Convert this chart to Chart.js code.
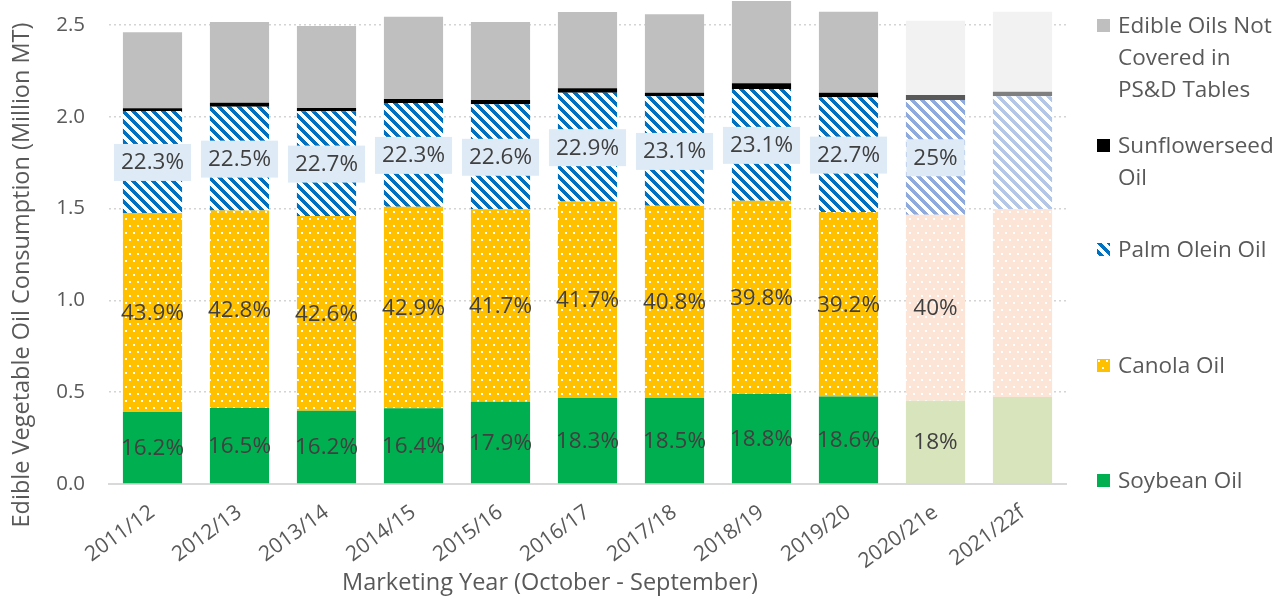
<!DOCTYPE html>
<html><head><meta charset="utf-8">
<script src="https://cdn.jsdelivr.net/npm/chart.js@4.4.1/dist/chart.umd.min.js"></script>
<style>
html,body{margin:0;padding:0;background:#fff;}
#wrap{position:relative;width:1284px;height:602px;overflow:hidden;}
#c{position:absolute;left:0;top:0;}
.lg{position:absolute;left:1118px;font-family:'Open Sans';font-size:22.5px;line-height:32px;color:#595959;white-space:nowrap;}
.mk{position:absolute;left:1097px;width:13px;height:13px;}
</style></head><body>
<div id="wrap"><canvas id="c" width="1284" height="602"></canvas><div id="legend"></div></div>
<script>
// ---------- DATA ----------
const categories = ['2011/12','2012/13','2013/14','2014/15','2015/16','2016/17','2017/18','2018/19','2019/20','2020/21e','2021/22f'];
const soybean   = [0.392,0.414,0.399,0.412,0.448,0.468,0.468,0.490,0.476,0.454,0.474];
const canola    = [1.084,1.075,1.061,1.098,1.048,1.070,1.048,1.053,1.005,1.013,1.022];
const palmOlein = [0.556,0.566,0.570,0.565,0.572,0.593,0.596,0.608,0.626,0.625,0.616];
const sunflower = [0.015,0.022,0.018,0.022,0.024,0.024,0.019,0.031,0.024,0.027,0.024];
const otherOils = [0.413,0.439,0.446,0.448,0.424,0.416,0.427,0.448,0.441,0.404,0.436];
const soyLabels    = ['16.2%','16.5%','16.2%','16.4%','17.9%','18.3%','18.5%','18.8%','18.6%','18%',null];
const canolaLabels = ['43.9%','42.8%','42.6%','42.9%','41.7%','41.7%','40.8%','39.8%','39.2%','40%',null];
const palmLabels   = ['22.3%','22.5%','22.7%','22.3%','22.6%','22.9%','23.1%','23.1%','22.7%','25%',null];
const yTicks = [0,0.5,1.0,1.5,2.0,2.5];
const seriesNames = ['Soybean Oil','Canola Oil','Palm Olein Oil','Sunflowerseed Oil','Edible Oils Not Covered in PS&D Tables'];
const legendLines = [['Edible Oils Not','Covered in','PS&D Tables'],['Sunflowerseed','Oil'],['Palm Olein Oil'],['Canola Oil'],['Soybean Oil']];
const yTitle = 'Edible Vegetable Oil Consumption (Million MT)';
const xTitle = 'Marketing Year (October - September)';

// ---------- STYLES ----------
function stripe(color){
  const c=document.createElement('canvas'); c.width=10; c.height=10;
  const g=c.getContext('2d'); g.fillStyle='#fff'; g.fillRect(0,0,10,10); g.fillStyle=color;
  for(let y=0;y<10;y++)for(let x=0;x<10;x++){ if((((x-y)%10)+10)%10<5) g.fillRect(x,y,1,1); }
  return g.createPattern(c,'repeat');
}
function dots(color){
  const c=document.createElement('canvas'); c.width=8; c.height=14;
  const g=c.getContext('2d'); g.fillStyle=color; g.fillRect(0,0,8,14); g.fillStyle='#fff';
  g.fillRect(1,1,2,2); g.fillRect(5,8,2,2);
  return g.createPattern(c,'repeat');
}
const kind = c => /e$/.test(c) ? 'e' : (/f$/.test(c) ? 'f' : 'a');
const pick = (a,e,f) => categories.map(c => ({a,e,f})[kind(c)]);

const styles = [
  {bg: pick('#00B050','#D8E4BC','#D8E4BC'), mk:'#00B050'},
  {bg: pick(dots('#FFC000'),dots('#FCE4D6'),dots('#FCE4D6')), mk:dots('#FFC000')},
  {bg: pick(stripe('#0070C0'),stripe('#8FAADC'),stripe('#B4C7E7')), mk:stripe('#0070C0')},
  {bg: pick('#000000','#595959','#7F7F7F'), mk:'#000000'},
  {bg: pick('#BFBFBF','#F2F2F2','#F2F2F2'), mk:'#BFBFBF'}
];
const series = [soybean,canola,palmOlein,sunflower,otherOils];

Chart.defaults.font.family = "'Open Sans', sans-serif";

const labelPlugin = {
  id:'segLabels',
  afterDatasetsDraw(chart){
    const ctx=chart.ctx;
    const specs=[[0,soyLabels,false],[1,canolaLabels,false],[2,palmLabels,true]];
    ctx.save(); ctx.font="22.5px 'Open Sans'"; ctx.textAlign='center'; ctx.textBaseline='middle';
    specs.forEach(([di,labels,boxed])=>{
      chart.getDatasetMeta(di).data.forEach((el,i)=>{
        const t=labels[i]; if(!t) return;
        const cx=el.x, cy=(el.y+el.base)/2;
        if(boxed){ const w=ctx.measureText(t).width+14; ctx.fillStyle='#DEEBF7'; ctx.fillRect(cx-w/2,cy-18,w,37); }
        ctx.fillStyle='#404040'; ctx.fillText(t,cx,cy+1);
      });
    });
    ctx.restore();
  }
};
const titlePlugin = {
  id:'axisTitles',
  afterDraw(chart){
    const ctx=chart.ctx; ctx.save();
    ctx.font="23.5px 'Open Sans'"; ctx.fillStyle='#595959'; ctx.textAlign='center'; ctx.textBaseline='middle';
    ctx.fillText(xTitle,550,583);
    ctx.translate(22,275); ctx.rotate(-Math.PI/2); ctx.fillText(yTitle,0,0);
    ctx.restore();
  }
};

new Chart(document.getElementById('c'),{
  type:'bar',
  data:{
    labels:categories,
    datasets: series.map((d,i)=>({label:seriesNames[i],data:d,backgroundColor:styles[i].bg,borderWidth:0,barPercentage:0.68,categoryPercentage:1}))
  },
  options:{
    responsive:false, animation:false, devicePixelRatio:1,
    layout:{padding:{left:0,right:218,top:0,bottom:0}},
    plugins:{legend:{display:false},tooltip:{enabled:false}},
    scales:{
      x:{stacked:true, grid:{display:false}, border:{display:true,color:'#D9D9D9',width:2},
         ticks:{color:'#595959',font:{size:21},maxRotation:36,minRotation:36,autoSkip:false,padding:8},
         afterFit:s=>{s.height=118; s.paddingTop=0; s.paddingBottom=0;}},
      y:{stacked:true, min:0, max:2.636,
         afterBuildTicks:s=>{s.ticks=yTicks.map(v=>({value:v}));},
         afterFit:s=>{s.width=109; s.paddingTop=0; s.paddingBottom=0;},
         grid:{color:'#D4D4D4',lineWidth:1.5,drawTicks:false},
         border:{display:false,dash:[2,3]},
         ticks:{color:'#595959',font:{size:20.5},padding:24,callback:v=>Number(v).toFixed(1)}}
    }
  },
  plugins:[labelPlugin,titlePlugin]
});

// ---------- HTML LEGEND ----------
const tops=[9,129,233,349,464];
const lg=document.getElementById('legend');
legendLines.forEach((lines,k)=>{
  const si = series.length-1-k;
  const t=document.createElement('div'); t.className='lg'; t.style.top=tops[k]+'px';
  t.innerHTML = lines.map(s=>s.replace(/&/g,'&amp;')).join('<br>');
  lg.appendChild(t);
  const m=document.createElement('canvas'); m.className='mk'; m.width=13; m.height=13;
  m.style.top=(tops[k]+10)+'px';
  const g=m.getContext('2d'); g.fillStyle=styles[si].mk; g.fillRect(0,0,13,13);
  lg.appendChild(m);
});
</script>
</body></html>
